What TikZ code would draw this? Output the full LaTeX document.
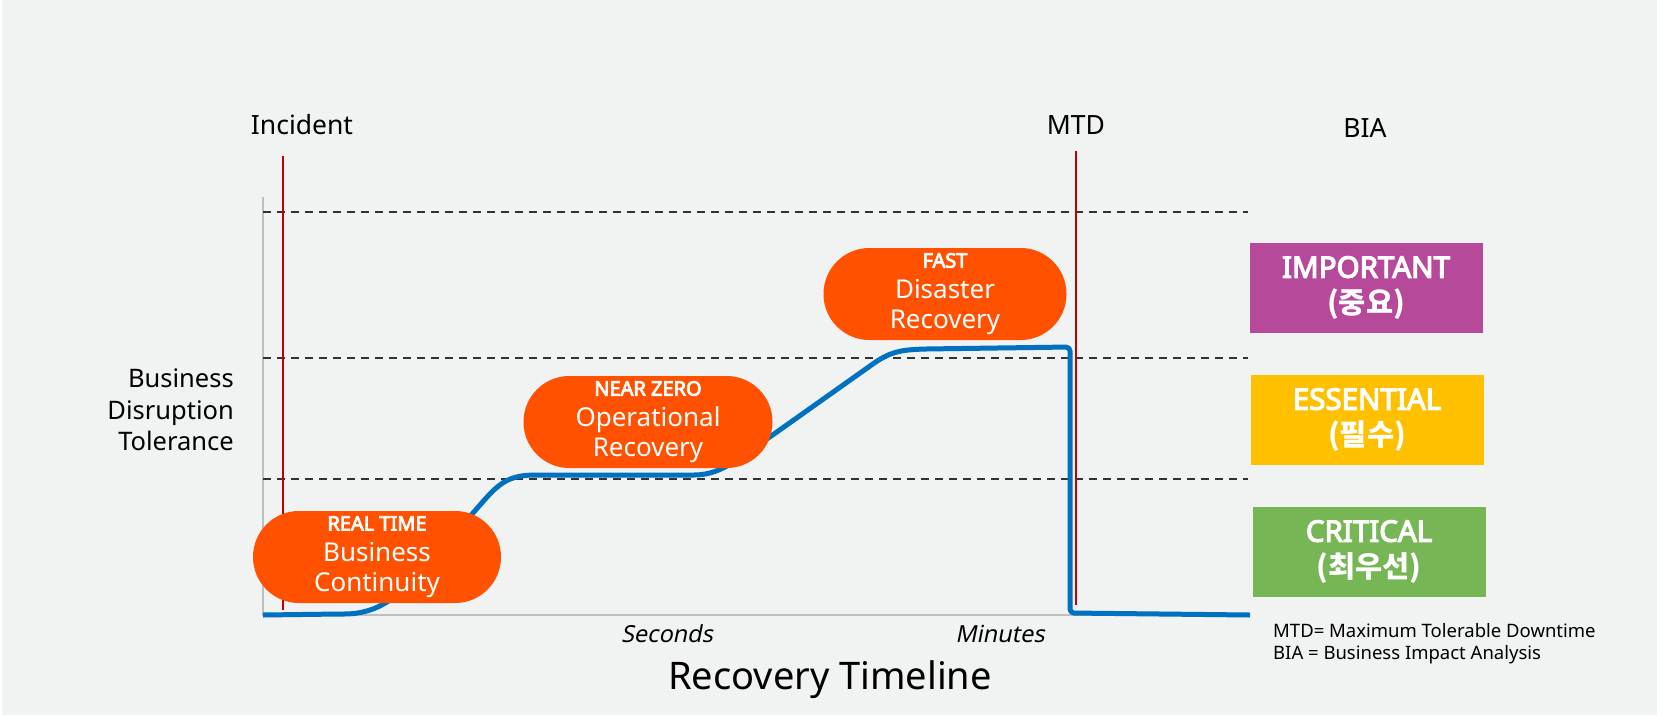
\documentclass[tikz,border=0pt]{standalone}
\usepackage{fontspec}
\setmainfont{Noto Sans}[BoldFont={Noto Sans}, BoldFeatures={FakeBold=4},
  ItalicFont={Noto Sans}, ItalicFeatures={FakeSlant=0.2}]
\newfontfamily\krfont{Noto Sans CJK KR}
\definecolor{bggrey}{HTML}{F1F3F2}
\definecolor{axisgrey}{HTML}{BFBFBF}
\definecolor{dashgrey}{HTML}{333333}
\definecolor{mtdred}{HTML}{C00000}
\definecolor{curveblue}{HTML}{0070C0}
\definecolor{pillorange}{HTML}{FF5100}
\definecolor{impviolet}{HTML}{B7499B}
\definecolor{essyellow}{HTML}{FFC000}
\definecolor{critgreen}{HTML}{76B654}
\tikzset{
  pill/.style={fill=pillorange, rounded corners=45.9pt, minimum height=92pt, inner sep=0pt,
    text=white, align=center, font=\fontsize{26}{30.5}\selectfont},
  biabox/.style={minimum width=233pt, minimum height=90pt, inner sep=0pt, text=white,
    align=center, font=\bfseries\fontsize{29.5}{36}\selectfont},
  tolline/.style={dashgrey, line width=1.8pt, dash pattern=on 8pt off 6pt},
  axisline/.style={axisgrey, line width=2pt},
  redline/.style={mtdred, line width=2pt},
  bluecurve/.style={curveblue, line width=5pt, line join=round, rounded corners=4pt},
  lbl/.style={font=\fontsize{26.5}{30}\selectfont, anchor=base}
}
\begin{document}
\begin{tikzpicture}[x=1pt,y=-1pt]
\useasboundingbox (0,0) rectangle (1657,715);
\fill[white] (0,0) rectangle (1657,715);
\fill[bggrey] (2,0) rectangle (1657,715);

\coordinate (top) at (263,197);
\coordinate (orig) at (263,615);
\coordinate (xend) at (1250,615);
\draw[axisline] (top) -- (orig) -- (xend);

\coordinate (imp-l) at (263,212);
\coordinate (imp-r) at (1248,212);
\coordinate (ess-l) at (263,358);
\coordinate (ess-r) at (1248,358);
\coordinate (crit-l) at (263,479);
\coordinate (crit-r) at (1248,479);
\draw[tolline] (imp-l) -- (imp-r);
\draw[tolline] (ess-l) -- (ess-r);
\draw[tolline] (crit-l) -- (crit-r);

\node[lbl] (incident) at (302,134) {Incident};
\node[lbl] (mtd) at (1076,134) {MTD};
\node[lbl] (bia) at (1365,137) {BIA};
\coordinate (inc-top) at (283,156);
\coordinate (inc-bot) at (283,610);
\coordinate (mtd-top) at (1076,151);
\coordinate (mtd-bot) at (1076,605);
\draw[redline] (inc-top) -- (inc-bot);
\draw[redline] (mtd-top) -- (mtd-bot);

\draw[bluecurve] (orig) -- (340,614) .. controls (380,614) and (400,595) .. (430,562)
  -- (480,505) .. controls (500,482) and (510,475) .. (540,475) -- (690,475)
  .. controls (715,475) and (730,465) .. (750,451) -- (870,366)
  .. controls (890,352) and (900,350) .. (925,349) -- (1070,347) -- (1070,613) -- (xend);

\node[pill, minimum width=248pt] (realtime) at (377,557)
  {{\bfseries\fontsize{20}{30.5}\selectfont REAL TIME}\\Business\\Continuity};
\node[pill, minimum width=249pt] (nearzero) at (648,422)
  {{\bfseries\fontsize{20}{30.5}\selectfont NEAR ZERO}\\Operational\\Recovery};
\node[pill, minimum width=243pt] (fast) at (945,294)
  {{\bfseries\fontsize{20}{30.5}\selectfont FAST}\\Disaster\\Recovery};

\node[biabox, fill=impviolet] (important) at (1366,288) {IMPORTANT\\{\krfont (중요)}};
\node[biabox, fill=essyellow] (essential) at (1367,420) {ESSENTIAL\\{\krfont (필수)}};
\node[biabox, fill=critgreen] (critical) at (1369,552) {CRITICAL\\{\krfont (최우선)}};

\node[font=\fontsize{25.5}{31.5}\selectfont, align=right, anchor=east, inner sep=0pt] (tolerance) at (234,410)
  {Business\\Disruption\\Tolerance};
\node[font=\itshape\fontsize{23.5}{26}\selectfont, anchor=base] (seconds) at (667,642) {Seconds};
\node[font=\itshape\fontsize{23.5}{26}\selectfont, anchor=base] (minutes) at (1000,642) {Minutes};
\node[font=\fontsize{38}{42}\selectfont, anchor=base] (timeline) at (830,689) {Recovery Timeline};
\node[font=\fontsize{18.5}{22}\selectfont, align=left, anchor=base west, inner sep=0pt] (legend) at (1273,659)
  {MTD= Maximum Tolerable Downtime\\BIA = Business Impact Analysis};
\end{tikzpicture}
\end{document}
